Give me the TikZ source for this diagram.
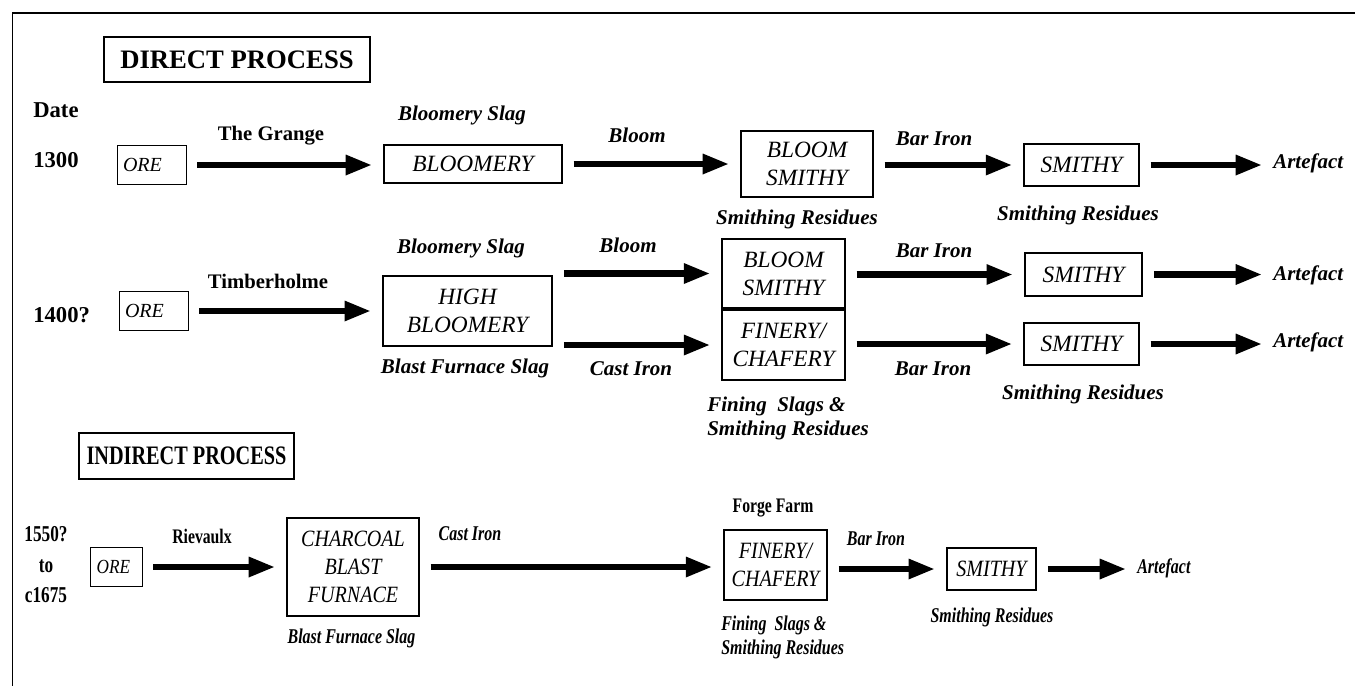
\documentclass[tikz,border=0pt]{standalone}
\usepackage{fontspec}
\setmainfont{Liberation Serif}
\newfontfamily\narrowrm[FakeStretch=0.76]{Liberation Serif}
\newfontfamily\narrowbox[FakeStretch=0.86]{Liberation Serif}
\usetikzlibrary{arrows.meta}

\newcommand\basefam{\rmfamily}
\newcommand\boxfam{\rmfamily}

\tikzset{
	heading/.style={draw, line width=1.5pt, inner sep=0pt, font=\basefam\fontsize{20}{24}\selectfont\bfseries},
	furnace/.style={draw, line width=1.5pt, inner sep=0pt, align=center, font=\boxfam\fontsize{17.5}{21}\selectfont\itshape},
	orebox/.style={draw, line width=0.75pt, inner ysep=0pt, align=left, minimum height=29pt, font=\boxfam\fontsize{15}{18}\selectfont\itshape},
	product/.style={inner sep=0pt, anchor=base, font=\basefam\fontsize{15.75}{18}\selectfont\bfseries\itshape},
	site/.style={inner sep=0pt, anchor=base, font=\basefam\fontsize{15.5}{19}\selectfont\bfseries},
	period/.style={inner sep=0pt, anchor=base west, font=\basefam\fontsize{17}{23}\selectfont\bfseries},
	flow/.style={line width=5pt, -{Triangle[length=20pt,width=14pt]}, shorten <=8pt, shorten >=8pt},
}

\begin{document}
\begin{tikzpicture}[x=0.75pt, y=-0.75pt]
	\useasboundingbox (0,0) rectangle (1355,686);
	\draw[line width=1.5pt] (12,13) -- (1355,13);
	\draw[line width=0.75pt] (12,13) -- (12,686);

	\node[heading, minimum width=200pt, minimum height=34pt] (direct) at (237,59.5) {DIRECT PROCESS};
	\node[period] (date) at (33,117) {Date};

	% 1300
	\node[period] (d1300) at (33,167) {1300};
	\node[orebox, text width=42.75pt, inner xsep=4.5pt] (ore1) at (151.5,165) {ORE};
	\node[furnace, minimum width=133.5pt, minimum height=28.5pt] (bloomery) at (473,164) {BLOOMERY};
	\node[furnace, minimum width=99pt, minimum height=50pt] (bsmithy1) at (807,164) {BLOOM\\SMITHY};
	\node[furnace, minimum width=86pt, minimum height=31.5pt] (smithy1) at (1081.5,165) {SMITHY};
	\node[product, anchor=base west] (art1) at (1273,168) {Artefact};

	\draw[flow] (ore1) -- (ore1 -| bloomery.west);
	\draw[flow] (bloomery) -- (bsmithy1);
	\draw[flow] (bsmithy1.east |- smithy1) -- (smithy1);
	\draw[flow] (smithy1) -- (smithy1 -| art1.west);

	\node[site] (grange) at (271,140) {The Grange};
	\node[product] (bslag1) at (462,120) {Bloomery Slag};
	\node[product] (bloom1) at (637,142) {Bloom};
	\node[product] (resid1) at (797,224) {Smithing Residues};
	\node[product] (bar1) at (934,145) {Bar Iron};
	\node[product] (resid2) at (1078,220) {Smithing Residues};

	% 1400?
	\node[period] (d1400) at (33,322) {1400?};
	\node[orebox, text width=42.75pt, inner xsep=4.5pt] (ore2) at (153.5,311) {ORE};
	\node[furnace, minimum width=127pt, minimum height=52.5pt] (hbloomery) at (467.5,311) {HIGH\\BLOOMERY};
	\node[furnace, minimum width=92pt, minimum height=52pt] (bsmithy2) at (783.5,273.5) {BLOOM\\SMITHY};
	\node[furnace, minimum width=92pt, minimum height=52pt] (finery1) at (783.5,345) {FINERY/\\CHAFERY};
	\node[furnace, minimum width=88pt, minimum height=32pt] (smithy2) at (1083.5,274.5) {SMITHY};
	\node[furnace, minimum width=86pt, minimum height=31.5pt] (smithy3) at (1081.5,344) {SMITHY};
	\node[product, anchor=base west] (art2) at (1273,280) {Artefact};
	\node[product, anchor=base west] (art3) at (1273,347) {Artefact};

	\draw[flow] (ore2) -- (hbloomery);
	\draw[flow] (hbloomery.east |- bsmithy2) -- (bsmithy2);
	\draw[flow] (hbloomery.east |- finery1) -- (finery1);
	\draw[flow] (bsmithy2.east |- smithy2) -- (smithy2);
	\draw[flow] (finery1.east |- smithy3) -- (smithy3);
	\draw[flow] (smithy2) -- (smithy2 -| art2.west);
	\draw[flow] (smithy3) -- (smithy3 -| art3.west);

	\node[site] (timber) at (268,288) {Timberholme};
	\node[product] (bslag2) at (461,253) {Bloomery Slag};
	\node[product] (bfslag1) at (465,373) {Blast Furnace Slag};
	\node[product] (bloom2) at (628,252) {Bloom};
	\node[product] (cast1) at (631,375) {Cast Iron};
	\node[product] (bar2) at (934,257) {Bar Iron};
	\node[product] (bar3) at (933,375) {Bar Iron};
	\node[product, anchor=north west, align=left] (fining1) at (707,397) {Fining~ Slags \&\\Smithing Residues};
	\node[product] (resid3) at (1083,399) {Smithing Residues};

	% 1550? to c1675
	\begin{scope}
		\renewcommand\basefam{\narrowrm}
		\renewcommand\boxfam{\narrowbox}
		\node[heading, minimum width=161pt, minimum height=34.5pt] (indirect) at (186.5,456) {INDIRECT PROCESS};
		\node[period, anchor=north, align=center] (d1550) at (46,526) {1550?\\to\\c1675};
		\node[orebox, text width=29pt, inner xsep=5pt] (ore3) at (116,567) {ORE};
		\node[furnace, minimum width=99pt, minimum height=74pt] (charcoal) at (353,567) {CHARCOAL\\BLAST\\FURNACE};
		\node[furnace, minimum width=77pt, minimum height=52.5pt] (finery2) at (775.5,565) {FINERY/\\CHAFERY};
		\node[furnace, minimum width=67pt, minimum height=32pt] (smithy4) at (991.5,569) {SMITHY};
		\node[product, anchor=base west] (art4) at (1137,573) {Artefact};

		\draw[flow] (ore3) -- (charcoal);
		\draw[flow] (charcoal) -- (charcoal -| finery2.west);
		\draw[flow] (finery2.east |- smithy4) -- (smithy4);
		\draw[flow] (smithy4) -- (smithy4 -| art4.west);

		\node[site] (rievaulx) at (202,543) {Rievaulx};
		\node[product] (bfslag2) at (351.5,643) {Blast Furnace Slag};
		\node[product] (cast2) at (470,540) {Cast Iron};
		\node[site] (forge) at (773,512) {Forge Farm};
		\node[product, anchor=north west, align=left] (fining2) at (721,616) {Fining~ Slags \&\\Smithing Residues};
		\node[product] (bar4) at (876,545) {Bar Iron};
		\node[product] (resid4) at (992,622) {Smithing Residues};
	\end{scope}
\end{tikzpicture}
\end{document}
